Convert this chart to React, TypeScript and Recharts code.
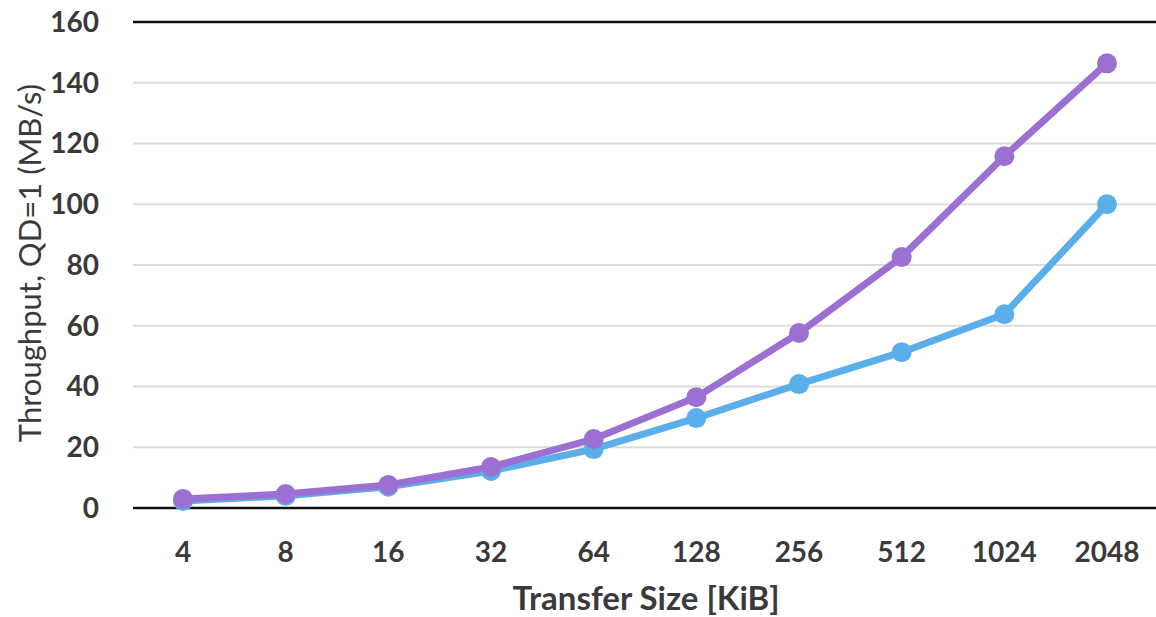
import { LineChart, Line, XAxis, YAxis, CartesianGrid, ReferenceLine, Label } from "recharts"

// Transfer sizes in KiB
const sizes = ["4", "8", "16", "32", "64", "128", "256", "512", "1024", "2048"]
// QD=1 throughput in MB/s
const purpleSeries = [3.0, 4.6, 7.6, 13.5, 22.7, 36.5, 57.6, 82.6, 115.8, 146.4]
const blueSeries = [2.3, 4.0, 7.0, 12.2, 19.4, 29.6, 40.8, 51.3, 63.8, 100.0]
const yTicks = [0, 20, 40, 60, 80, 100, 120, 140, 160]

const data = sizes.map((size, i) => ({ size, purple: purpleSeries[i], blue: blueSeries[i] }))

const FONT = "Lato, 'Noto Sans', sans-serif"
const TEXT = "#3a3a3a"

function YTitle({ viewBox }: any) {
  const cx = 29
  const cy = viewBox.y + viewBox.height / 2 - 2
  return (
    <text
      x={cx}
      y={cy}
      transform={`rotate(-90, ${cx}, ${cy})`}
      textAnchor="middle"
      dominantBaseline="central"
      fill={TEXT}
      fontSize={31}
      fontFamily={FONT}
      fontWeight={400}
    >
      Throughput, QD=1 (MB/s)
    </text>
  )
}

export default function App() {
  return (
    <div style={{ position: "absolute", left: 0, top: 0, width: 1156, height: 617, background: "#fff" }}>
      <LineChart width={1156} height={617} data={data} margin={{ top: 22, right: -3, bottom: 0, left: 0 }}>
        <CartesianGrid vertical={false} stroke="#dcdcdc" strokeWidth={2} />
        <XAxis
          dataKey="size"
          height={109}
          padding={{ left: 50, right: 52 }}
          tickLine={false}
          axisLine={{ stroke: "#111", strokeWidth: 2.5 }}
          tickMargin={28}
          tick={{ fill: TEXT, fontSize: 28, fontFamily: FONT, fontWeight: 700 }}
        >
          <Label
            value="Transfer Size [KiB]"
            position="insideBottom"
            offset={7}
            fill={TEXT}
            fontSize={33}
            fontFamily={FONT}
            fontWeight={700}
          />
        </XAxis>
        <YAxis
          width={133}
          domain={[0, 160]}
          ticks={yTicks}
          tickLine={false}
          axisLine={false}
          tickMargin={28}
          tick={{ fill: TEXT, fontSize: 28, fontFamily: FONT, fontWeight: 700 }}
        >
          <Label content={YTitle} />
        </YAxis>
        <ReferenceLine y={160} stroke="#111" strokeWidth={2.5} />
        <Line
          dataKey="blue"
          stroke="#5aaeea"
          strokeWidth={7}
          dot={{ r: 10, fill: "#5aaeea", stroke: "#5aaeea", strokeWidth: 0 }}
          activeDot={false}
          isAnimationActive={false}
        />
        <Line
          dataKey="purple"
          stroke="#9b70d2"
          strokeWidth={7}
          dot={{ r: 10, fill: "#9b70d2", stroke: "#9b70d2", strokeWidth: 0 }}
          activeDot={false}
          isAnimationActive={false}
        />
      </LineChart>
    </div>
  )
}
